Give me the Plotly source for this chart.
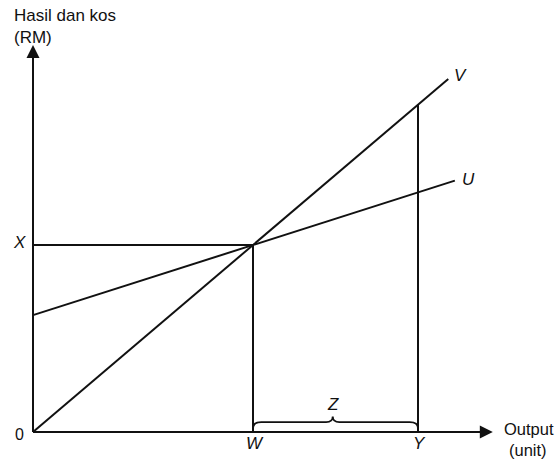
import plotly.graph_objects as go

# Break-even chart values (abstract units)
break_even_output = 4.0      # W
break_even_value = 4.0       # X
higher_output = 7.0          # Y
cost_intercept = 2.5         # intercept of line U
revenue_slope = 1.0          # line V
cost_slope = 0.375           # line U
v_end = 7.55
u_end = 7.67
x_axis_end = 8.36
y_axis_end = 8.28

line_names = ["V", "U"]
axis_titles = ["Hasil dan kos", "(RM)", "Output", "(unit)"]
point_labels = ["X", "W", "Y", "Z", "0"]

black = "#111111"
fig = go.Figure()

def seg(xs, ys, w=2):
    fig.add_trace(go.Scatter(x=xs, y=ys, mode="lines", line=dict(color=black, width=w),
                             hoverinfo="skip"))

seg([0, v_end], [0, revenue_slope * v_end])                                   # V
seg([0, u_end], [cost_intercept, cost_intercept + cost_slope * u_end])        # U
seg([0, break_even_output], [break_even_value, break_even_value])             # X line
seg([break_even_output, break_even_output], [0, break_even_value])            # at W
seg([higher_output, higher_output], [0, revenue_slope * higher_output])       # at Y
seg([0, x_axis_end - 0.1], [0, 0])                                            # x axis
seg([0, 0], [0, y_axis_end - 0.1])                                            # y axis

fig.add_annotation(x=x_axis_end, y=0, ax=x_axis_end - 0.3, ay=0, axref="x", ayref="y",
                   xref="x", yref="y", showarrow=True, arrowhead=2, arrowsize=1.3,
                   arrowwidth=2, arrowcolor=black, text="")
fig.add_annotation(x=0, y=y_axis_end, ax=0, ay=y_axis_end - 0.3, axref="x", ayref="y",
                   xref="x", yref="y", showarrow=True, arrowhead=2, arrowsize=1.3,
                   arrowwidth=2, arrowcolor=black, text="")

# Brace Z between W and Y
x0, x1 = break_even_output, higher_output
xm = (x0 + x1) / 2 - 0.05
yb, yh, yt = 0.08, 0.21, 0.33
path = (f"M {x0},{yb} Q {x0},{yh} {x0+0.15},{yh} L {xm-0.12},{yh} Q {xm},{yh} {xm},{yt} "
        f"Q {xm},{yh} {xm+0.12},{yh} L {x1-0.15},{yh} Q {x1},{yh} {x1},{yb}")
fig.add_shape(type="path", path=path, xref="x", yref="y", line=dict(color=black, width=1.8))

FONT = "Liberation Sans, Arial, sans-serif"

def label(x, y, text, xanchor="center", italic=True, size=17):
    t = f"<i>{text}</i>" if italic else text
    fig.add_annotation(x=x, y=y, xref="x", yref="y", text=t, showarrow=False,
                       xanchor=xanchor, yanchor="middle",
                       font=dict(family=FONT, size=size, color=black))

label(v_end + 0.22, revenue_slope * v_end + 0.08, line_names[0])
label(u_end + 0.24, cost_intercept + cost_slope * u_end + 0.02, line_names[1])
label(-0.1, break_even_value + 0.05, point_labels[0], xanchor="right")
label(break_even_output + 0.03, -0.24, point_labels[1])
label(higher_output + 0.03, -0.24, point_labels[2])
label(xm, 0.58, point_labels[3])
label(-0.12, -0.06, point_labels[4], xanchor="right", italic=False, size=16)
label(-0.39, 8.9, axis_titles[0], xanchor="left", italic=False, size=17)
label(-0.39, 8.43, axis_titles[1], xanchor="left", italic=False, size=17)
label(8.53, 0.06, axis_titles[2], xanchor="left", italic=False, size=16.5)
label(8.61, -0.38, axis_titles[3], xanchor="left", italic=False, size=16.5)

fig.update_layout(
    width=555, height=463,
    margin=dict(l=0, r=0, t=0, b=0),
    paper_bgcolor="white", plot_bgcolor="white",
    showlegend=False,
    xaxis=dict(range=[-33 / 55, (555 - 33) / 55], visible=False, fixedrange=True),
    yaxis=dict(range=[-31 / 46.75, (463 - 31) / 46.75], visible=False, fixedrange=True),
)

fig.write_html("out.html", config={"displayModeBar": False},
               post_script="document.body.style.margin='0px';")
